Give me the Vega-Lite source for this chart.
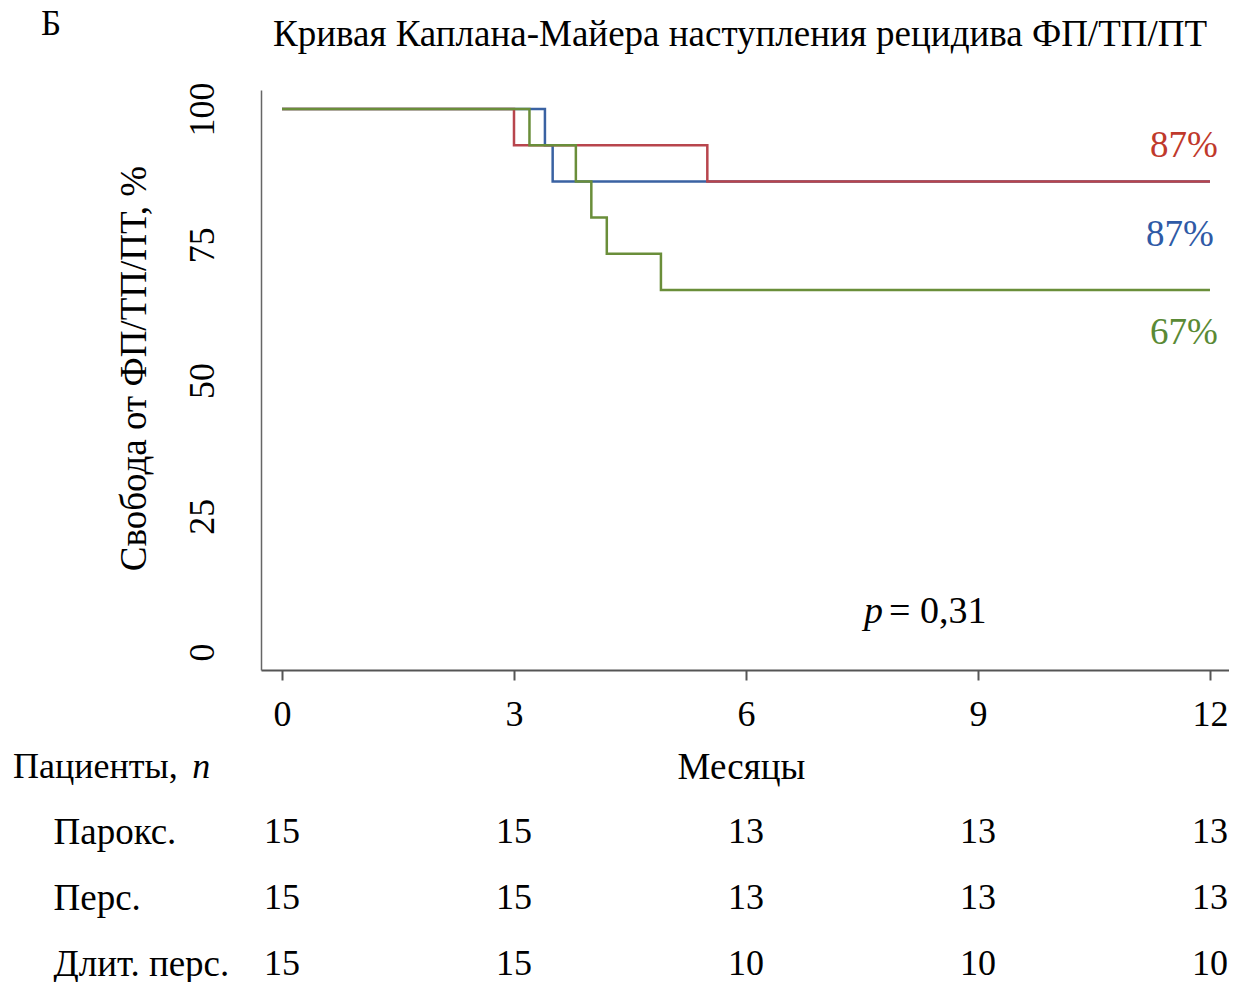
{
  "$schema": "https://vega.github.io/schema/vega-lite/v6.json",
  "background": "white",
  "padding": {"left": 12, "top": 6, "right": 0, "bottom": 0},
  "config": {
    "font": "Liberation Serif",
    "view": {"stroke": null}
  },
  "datasets": {
    "km": [
      {"group": "Перс.", "t": 0, "s": 100},
      {"group": "Перс.", "t": 3.4, "s": 93.33},
      {"group": "Перс.", "t": 3.5, "s": 86.67},
      {"group": "Перс.", "t": 12, "s": 86.67},
      {"group": "Парокс.", "t": 0, "s": 100},
      {"group": "Парокс.", "t": 3.0, "s": 93.33},
      {"group": "Парокс.", "t": 5.5, "s": 86.67},
      {"group": "Парокс.", "t": 12, "s": 86.67},
      {"group": "Длит. перс.", "t": 0, "s": 100},
      {"group": "Длит. перс.", "t": 3.2, "s": 93.33},
      {"group": "Длит. перс.", "t": 3.8, "s": 86.67},
      {"group": "Длит. перс.", "t": 4.0, "s": 80},
      {"group": "Длит. перс.", "t": 4.2, "s": 73.33},
      {"group": "Длит. перс.", "t": 4.9, "s": 66.67},
      {"group": "Длит. перс.", "t": 12, "s": 66.67}
    ],
    "risk": [
      {"group": "Парокс.", "t": 0, "n": 15},
      {"group": "Парокс.", "t": 3, "n": 15},
      {"group": "Парокс.", "t": 6, "n": 13},
      {"group": "Парокс.", "t": 9, "n": 13},
      {"group": "Парокс.", "t": 12, "n": 13},
      {"group": "Перс.", "t": 0, "n": 15},
      {"group": "Перс.", "t": 3, "n": 15},
      {"group": "Перс.", "t": 6, "n": 13},
      {"group": "Перс.", "t": 9, "n": 13},
      {"group": "Перс.", "t": 12, "n": 13},
      {"group": "Длит. перс.", "t": 0, "n": 15},
      {"group": "Длит. перс.", "t": 3, "n": 15},
      {"group": "Длит. перс.", "t": 6, "n": 10},
      {"group": "Длит. перс.", "t": 9, "n": 10},
      {"group": "Длит. перс.", "t": 12, "n": 10}
    ],
    "ends": [
      {"group": "Парокс.", "label": "87%"},
      {"group": "Перс.", "label": "87%"},
      {"group": "Длит. перс.", "label": "67%"}
    ]
  },
  "vconcat": [
    {
      "width": 968,
      "height": 580,
      "layer": [
        {
          "data": {"name": "km"},
          "mark": {"type": "line", "interpolate": "step-after", "strokeWidth": 2.5},
          "encoding": {
            "x": {
              "field": "t", "type": "quantitative",
              "scale": {"domain": [-0.2716, 12.246], "nice": false, "zero": false},
              "axis": {
                "values": [0, 3, 6, 9, 12], "format": "d", "grid": false, "title": "Месяцы",
                "domainColor": "#555", "domainWidth": 2, "tickColor": "#555", "tickWidth": 2, "tickSize": 10,
                "labelFontSize": 36, "labelColor": "#000", "labelPadding": 17,
                "titleFontSize": 37, "titleFontWeight": "normal", "titleColor": "#000",
                "titleX": 480, "titleY": 97, "titleBaseline": "middle"
              }
            },
            "y": {
              "field": "s", "type": "quantitative",
              "scale": {"domain": [-3.31, 103.5], "nice": false, "zero": false},
              "axis": {
                "values": [0, 25, 50, 75, 100], "grid": false, "ticks": false,
                "title": "Свобода от ФП/ТП/ПТ, %",
                "domainColor": "#666", "domainWidth": 1.5,
                "labelFontSize": 36, "labelColor": "#000", "labelAngle": -90,
                "labelAlign": "center", "labelBaseline": "alphabetic", "labelPadding": 48,
                "titleFontSize": 37, "titleFontWeight": "normal", "titleColor": "#000",
                "titleAngle": -90, "titleX": -116, "titleY": 278, "titleAlign": "center", "titleBaseline": "alphabetic"
              }
            },
            "color": {
              "field": "group", "type": "nominal", "legend": null,
              "scale": {"domain": ["Парокс.", "Перс.", "Длит. перс."], "range": ["#b8454d", "#3a62a2", "#6a8e3a"]}
            }
          }
        },
        {
          "data": {"name": "ends"},
          "transform": [{"filter": "datum.group === 'Парокс.'"}],
          "mark": {"type": "text", "fontSize": 37, "align": "center", "baseline": "middle", "color": "#c0392b", "clip": false},
          "encoding": {"x": {"datum": 11.664}, "y": {"datum": 93.2}, "text": {"field": "label"}}
        },
        {
          "data": {"name": "ends"},
          "transform": [{"filter": "datum.group === 'Перс.'"}],
          "mark": {"type": "text", "fontSize": 37, "align": "center", "baseline": "middle", "color": "#2f5aa6", "clip": false},
          "encoding": {"x": {"datum": 11.612}, "y": {"datum": 76.8}, "text": {"field": "label"}}
        },
        {
          "data": {"name": "ends"},
          "transform": [{"filter": "datum.group === 'Длит. перс.'"}],
          "mark": {"type": "text", "fontSize": 37, "align": "center", "baseline": "middle", "color": "#5a8a35", "clip": false},
          "encoding": {"x": {"datum": 11.664}, "y": {"datum": 58.7}, "text": {"field": "label"}}
        },
        {
          "data": {"values": [{}]},
          "mark": {"type": "text", "fontSize": 38, "fontStyle": "italic", "align": "right", "baseline": "middle", "color": "#000"},
          "encoding": {"x": {"datum": 7.772}, "y": {"datum": 7.37}, "text": {"value": "p"}}
        },
        {
          "data": {"values": [{}]},
          "mark": {"type": "text", "fontSize": 38, "align": "left", "baseline": "middle", "color": "#000"},
          "encoding": {"x": {"datum": 7.85}, "y": {"datum": 7.37}, "text": {"value": "= 0,31"}}
        },
        {
          "data": {"values": [{}]},
          "mark": {"type": "text", "fontSize": 35, "align": "center", "baseline": "middle", "color": "#000", "clip": false},
          "encoding": {"x": {"datum": -2.987}, "y": {"datum": 115.7}, "text": {"value": "Б"}}
        },
        {
          "data": {"values": [{}]},
          "mark": {"type": "text", "fontSize": 37, "align": "center", "baseline": "middle", "color": "#000", "clip": false},
          "encoding": {"x": {"datum": 5.923}, "y": {"datum": 113.6}, "text": {"value": "Кривая Каплана-Майера наступления рецидива ФП/ТП/ПТ"}}
        },
        {
          "data": {"values": [{}]},
          "mark": {"type": "text", "fontSize": 36, "align": "left", "baseline": "middle", "color": "#000", "clip": false},
          "encoding": {"x": {"datum": -3.479}, "y": {"datum": -21.2}, "text": {"value": "Пациенты,"}}
        },
        {
          "data": {"values": [{}]},
          "mark": {"type": "text", "fontSize": 36, "fontStyle": "italic", "align": "left", "baseline": "middle", "color": "#000", "clip": false},
          "encoding": {"x": {"datum": -1.16}, "y": {"datum": -21.2}, "text": {"value": "n"}}
        }
      ]
    },
    {
      "width": 968,
      "height": 165,
      "data": {"name": "risk"},
      "mark": {"type": "text", "fontSize": 36, "align": "center", "baseline": "middle", "color": "#000"},
      "encoding": {
        "x": {
          "field": "t", "type": "quantitative",
          "scale": {"domain": [-0.2716, 12.246], "nice": false, "zero": false},
          "axis": null
        },
        "y": {
          "field": "group", "type": "nominal",
          "sort": ["Парокс.", "Перс.", "Длит. перс."],
          "scale": {"type": "point", "padding": 0.25},
          "axis": {
            "title": null, "domain": false, "ticks": false, "grid": false,
            "labelAlign": "left", "labelPadding": 208, "labelFontSize": 37, "labelColor": "#000", "labelBaseline": "middle"
          }
        },
        "text": {"field": "n", "type": "quantitative"}
      }
    }
  ],
  "bounds": "flush",
  "spacing": 145.5,
  "resolve": {"scale": {"x": "independent", "y": "independent"}}
}
